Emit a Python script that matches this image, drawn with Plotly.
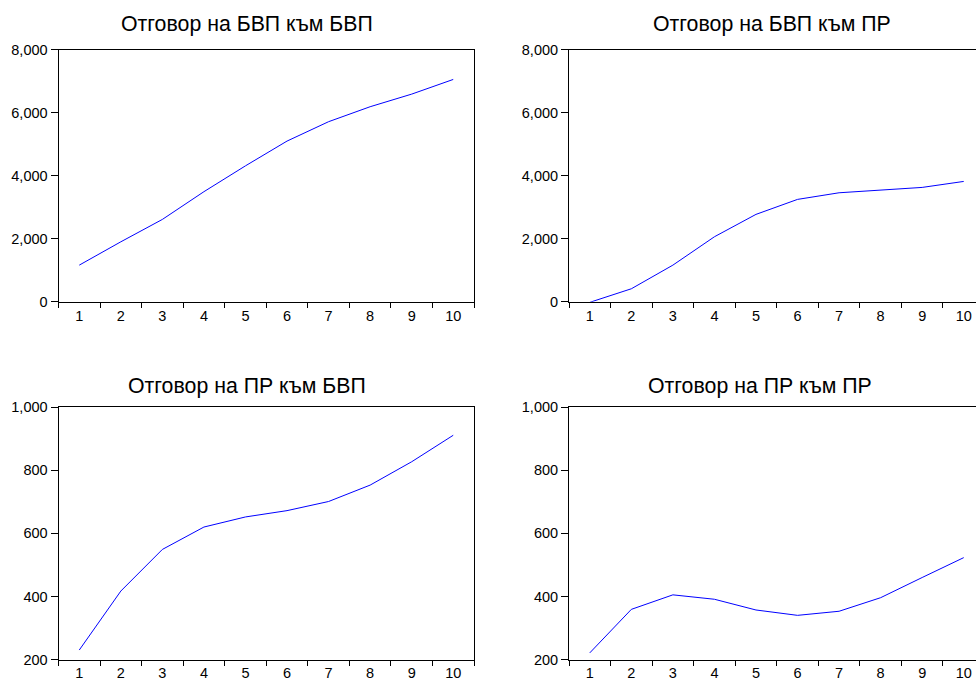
import plotly.graph_objects as go

periods = ["1", "2", "3", "4", "5", "6", "7", "8", "9", "10"]
gdp_to_gdp = [1160, 1900, 2610, 3490, 4310, 5095, 5710, 6185, 6585, 7050]
gdp_to_pr = [-20, 410, 1160, 2060, 2770, 3245, 3455, 3540, 3625, 3815]
pr_to_gdp = [230, 417, 549, 620, 652, 672, 701, 753, 827, 911]
pr_to_pr = [221, 359, 405, 391, 357, 340, 353, 396, 460, 523]
titles = ["Отговор на БВП към БВП", "Отговор на БВП към ПР",
          "Отговор на ПР към БВП", "Отговор на ПР към ПР"]

W, H = 976, 681
FONT = "Liberation Sans, Arial, sans-serif"

fig = go.Figure()

panels = [
    (gdp_to_gdp, (58.5, 474), (49.5, 301.7), [0, 8000], [0, 2000, 4000, 6000, 8000], 247, 24, False, 1, 5),
    (gdp_to_pr, (569, 976), (49.5, 301.7), [0, 8000], [0, 2000, 4000, 6000, 8000], 772, 24, True, 1, 5),
    (pr_to_gdp, (58.5, 474), (407.2, 659.5), [200, 1000], [200, 400, 600, 800, 1000], 247, 386, False, 0, 5),
    (pr_to_pr, (569, 976), (407.2, 659.5), [200, 1000], [200, 400, 600, 800, 1000], 760, 386, True, 0, 5),
]

step = (474 - 58.5) / 10.0

for i, (vals, xd, yd, yr, yt, tx, ty, right, standoff, tlen) in enumerate(panels):
    n = i + 1
    xa = "x" if n == 1 else f"x{n}"
    ya = "y" if n == 1 else f"y{n}"
    fig.add_trace(go.Scatter(x=periods, y=vals, mode="lines",
                             line=dict(color="#0000FF", width=1),
                             xaxis=xa, yaxis=ya, showlegend=False,
                             hoverinfo="x+y"))
    xmax = -0.5 + (xd[1] - xd[0]) / step if right else 9.5
    xkey = "xaxis" if n == 1 else f"xaxis{n}"
    ykey = "yaxis" if n == 1 else f"yaxis{n}"
    fig.layout[xkey] = dict(
        domain=[xd[0] / W, xd[1] / W], anchor=ya, type="category",
        range=[-0.5, xmax], tickson="boundaries", ticks="outside",
        ticklen=tlen, tickcolor="black", tickwidth=1, ticklabelstandoff=standoff,
        showline=True, linecolor="black", linewidth=1, mirror=True,
        showgrid=False, zeroline=False, automargin=False,
        tickfont=dict(family=FONT, size=14.5, color="black"),
        fixedrange=True,
    )
    fig.layout[ykey] = dict(
        domain=[1 - yd[1] / H, 1 - yd[0] / H], anchor=xa,
        range=yr, tickvals=yt, tickformat=",", ticks="outside",
        ticklen=7, tickcolor="black", tickwidth=1,
        showline=True, linecolor="black", linewidth=1, mirror=not right,
        showgrid=False, zeroline=False, automargin=False,
        tickfont=dict(family=FONT, size=14.5, color="black"),
        fixedrange=True,
    )
    fig.add_annotation(text=titles[i], x=tx / W, y=1 - ty / H,
                       xref="paper", yref="paper", xanchor="center",
                       yanchor="middle", showarrow=False,
                       font=dict(family=FONT, size=21.3, color="black"))

fig.update_layout(width=W, height=H, margin=dict(l=0, r=0, t=0, b=0),
                  paper_bgcolor="white", plot_bgcolor="white",
                  font=dict(family=FONT, color="black"))

fig.write_html("out.html", config={"displayModeBar": False},
               post_script="document.body.style.margin='0';document.body.style.overflow='hidden';")
